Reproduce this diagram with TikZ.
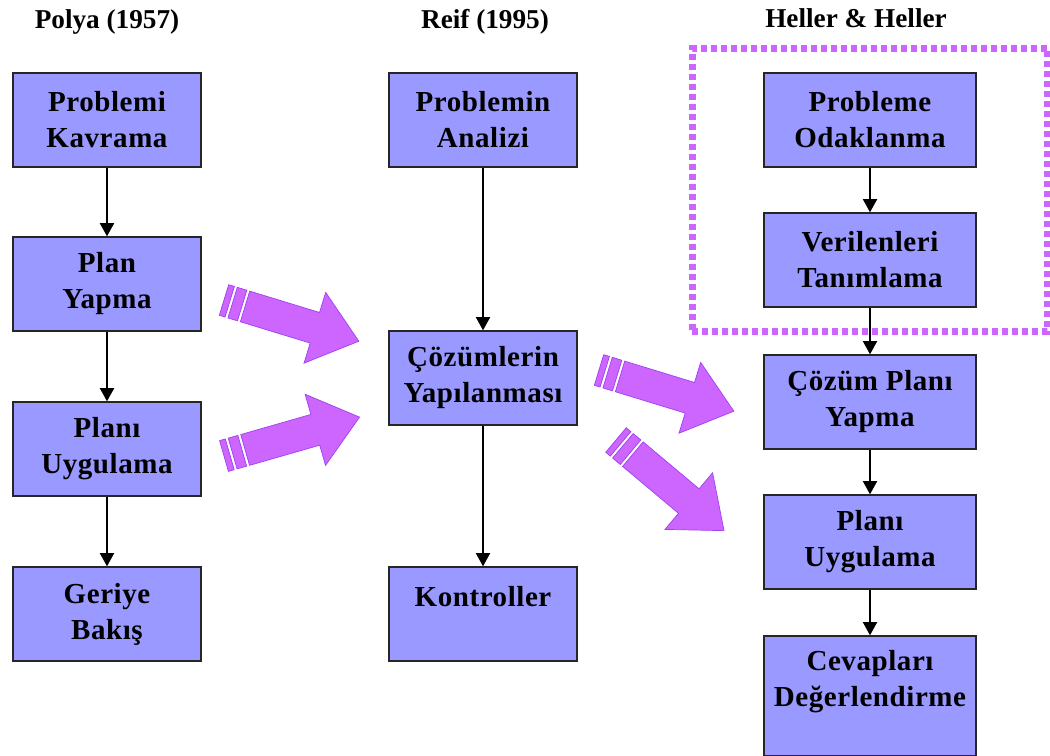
\documentclass[tikz,border=0pt]{standalone}
\usepackage{fontspec}
\setmainfont{Liberation Serif}
\newfontfamily\boxfont[LetterSpace=2]{Liberation Serif}
\usetikzlibrary{arrows.meta,fit}
\definecolor{boxblue}{HTML}{9999FF}
\definecolor{fatpurple}{HTML}{CC66FF}
\definecolor{fatedge}{HTML}{A040F0}
\tikzset{
  stage/.style={draw=black!85, line width=0.8pt, fill=boxblue, minimum width=3.76cm,
    minimum height=1.88cm, align=center, inner sep=2pt,
    font=\boxfont\bfseries\fontsize{16.5}{20.5}\selectfont},
  widestage/.style={stage, minimum width=4.24cm},
  title/.style={font=\bfseries\fontsize{15.5}{18}\selectfont},
  link/.style={-{Triangle[length=7.5pt,width=8pt]}, line width=1pt},
  frame/.style={draw=fatpurple, line width=0.13cm, dash pattern=on 0.12cm off 0.08cm},
  pics/fatarrow/.style={code={
    \filldraw[fill=fatpurple, draw=fatedge, line width=0.4pt] (0,-16) rectangle (6,16);
    \filldraw[fill=fatpurple, draw=fatedge, line width=0.4pt] (9,-16) rectangle (19,16);
    \filldraw[fill=fatpurple, draw=fatedge, line width=0.4pt]
      (22,-16) -- (95,-16) -- (95,-37) -- (141,0) -- (95,37) -- (95,16) -- (22,16) -- cycle;
  }}
}
\begin{document}
\begin{tikzpicture}[x=0.02cm, y=-0.02cm]
\useasboundingbox (0,0) rectangle (1050,756);

% Titles
\node[title] (tpolya) at (107,22) {Polya (1957)};
\node[title] (treif) at (485,22) {Reif (1995)};
\node[title] (theller) at (856,18) {Heller \& Heller};

% Polya
\node[stage] (p1) at (107,120) {Problemi\\Kavrama};
\node[stage] (p2) at (107,284) {Plan\\Yapma};
\node[stage] (p3) at (107,449) {Planı\\Uygulama};
\node[stage] (p4) at (107,614) {Geriye\\Bakış};
\draw[link] (p1) -- (p2);
\draw[link] (p2) -- (p3);
\draw[link] (p3) -- (p4);

% Reif
\node[stage] (r1) at (483,120) {Problemin\\Analizi};
\node[stage] (r2) at (483,378) {Çözümlerin\\Yapılanması};
\node[stage] (r3) at (483,614) {Kontroller\\\mbox{}};
\draw[link] (r1) -- (r2);
\draw[link] (r2) -- (r3);

% Heller & Heller
\node[widestage] (h1) at (870,120) {Probleme\\Odaklanma};
\node[widestage] (h2) at (870,260) {Verilenleri\\Tanımlama};
\node[widestage] (h3) at (870,402) {Çözüm Planı\\Yapma};
\node[widestage] (h4) at (870,542) {Planı\\Uygulama};
\node[widestage, minimum height=2.4cm] (h5) at (870,696) {Cevapları\\Değerlendirme\\\mbox{}};
\draw[link] (h1) -- (h2);
\draw[link] (h2) -- (h3);
\draw[link] (h3) -- (h4);
\draw[link] (h4) -- (h5);
\node[frame, fit=(h1)(h2), inner xsep=1.42cm, inner ysep=0.48cm] (focus) {};

% Fat arrows
\pic[rotate=-17] at (224,300) {fatarrow};
\pic[rotate=16] at (224,456) {fatarrow};
\pic[rotate=-17] at (599,370) {fatarrow};
\pic[rotate=-40] at (616,440) {fatarrow};
\end{tikzpicture}
\end{document}
